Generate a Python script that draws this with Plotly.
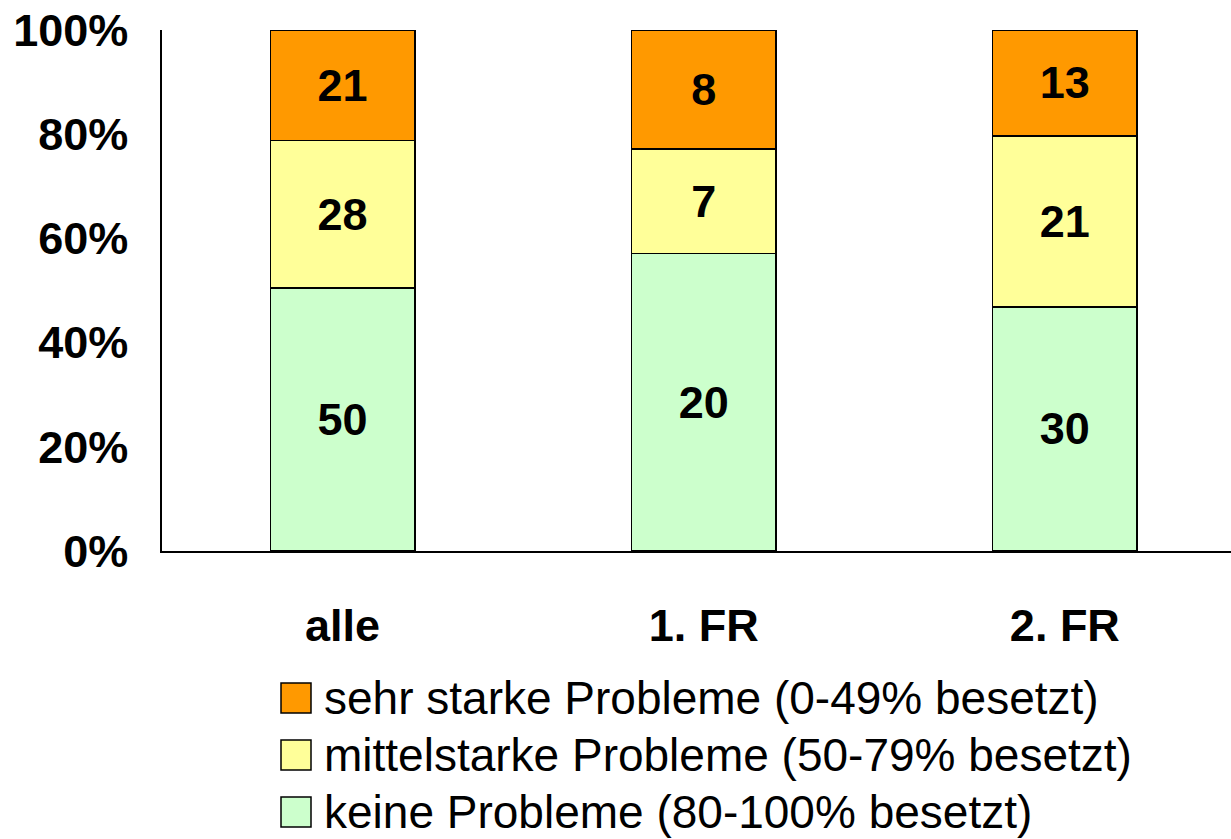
import plotly.graph_objects as go

categories = ["alle", "1. FR", "2. FR"]
series_names = [
    "keine Probleme (80-100% besetzt)",
    "mittelstarke Probleme (50-79% besetzt)",
    "sehr starke Probleme (0-49% besetzt)",
]
keine = [50, 20, 30]
mittel = [28, 7, 21]
sehr = [21, 8, 13]
colors = ["#CCFFCC", "#FFFF99", "#FF9900"]
y_ticks = [0, 20, 40, 60, 80, 100]

W, H = 1231, 839
L, R, T, B = 162, 0, 30, 839 - 551

fig = go.Figure()
for name, vals, col in zip(series_names, [keine, mittel, sehr], colors):
    fig.add_trace(go.Bar(
        x=categories, y=vals, name=name, text=vals,
        textposition="inside", insidetextanchor="middle",
        textfont=dict(family="Liberation Sans", size=45, color="black", weight="bold"),
        marker=dict(color=col, line=dict(color="black", width=1.5)),
        width=0.4, showlegend=False, constraintext="none",
    ))

fig.update_layout(
    width=W, height=H,
    margin=dict(l=L, r=R, t=T, b=B, autoexpand=False),
    barmode="stack", barnorm="percent",
    plot_bgcolor="white", paper_bgcolor="white",
    font=dict(family="Liberation Sans", color="black"),
)
fig.update_xaxes(
    range=[-0.5, 2.46], showline=True, linecolor="black", linewidth=1.5,
    ticks="", showgrid=False, ticklabelstandoff=34, automargin=False,
    tickfont=dict(family="Liberation Sans", size=45, color="black", weight="bold"),
)
fig.update_yaxes(
    range=[0, 100], tickvals=y_ticks, ticktext=[f"{v}%" for v in y_ticks],
    showline=True, linecolor="black", linewidth=1.5, ticks="", showgrid=False,
    zeroline=False, ticklabelstandoff=23, ticklabeloverflow="allow", automargin=False,
    tickfont=dict(family="Liberation Sans", size=45, color="black", weight="bold"),
)

# custom legend (large swatches), positions given in page pixels
plot_w = W - L - R
plot_h = H - T - B
def px_to_paper(px, py):
    return (px - L) / plot_w, (H - B - py) / plot_h

legend_order = [2, 1, 0]
for i, idx in enumerate(legend_order):
    cy = 698 + i * 57
    x0, y0 = px_to_paper(281, cy - 15)
    x1, y1 = px_to_paper(311, cy + 15)
    fig.add_shape(type="rect", xref="paper", yref="paper", x0=x0, x1=x1, y0=y0, y1=y1,
                  fillcolor=colors[idx], line=dict(color="black", width=1.5))
    tx, ty = px_to_paper(322, cy)
    fig.add_annotation(xref="paper", yref="paper", x=tx, y=ty, xanchor="left", yanchor="middle",
                       text=series_names[idx], showarrow=False,
                       font=dict(family="Liberation Sans", size=46, color="black"))

fig.write_html(
    "out.html",
    config={"displayModeBar": False},
    post_script="document.body.style.margin='0';document.body.style.overflow='hidden';",
)
